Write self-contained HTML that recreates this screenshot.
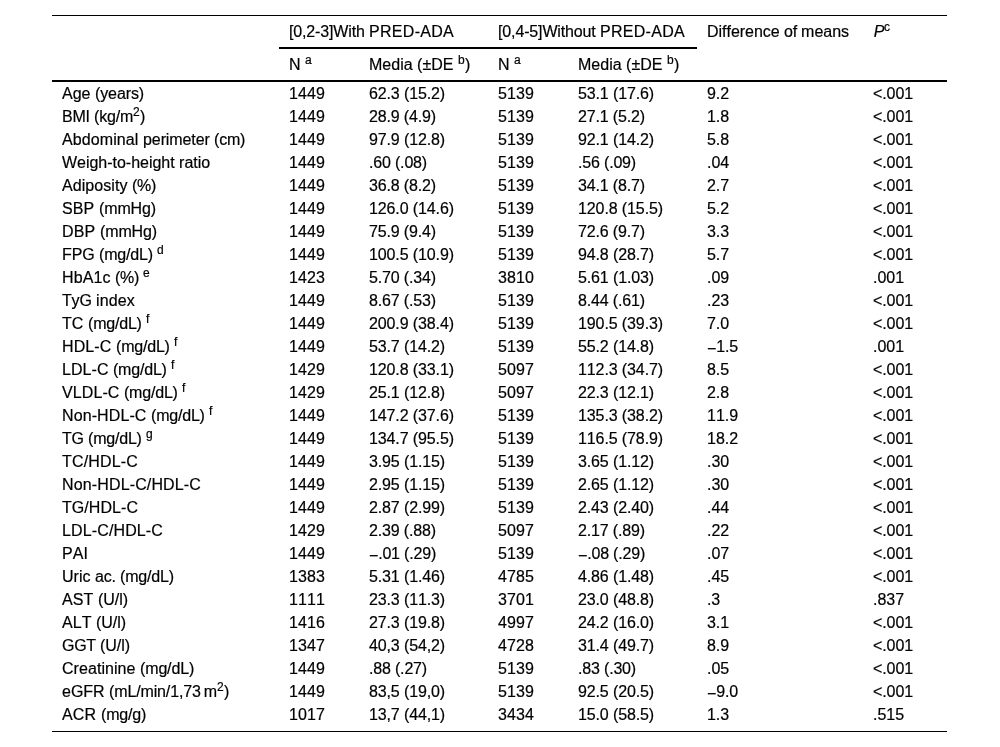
<!DOCTYPE html><html><head><meta charset="utf-8"><title>Table</title><style>
html,body{margin:0;padding:0;background:#fff;}
body{width:1000px;height:747px;overflow:hidden;position:relative;font-family:"Liberation Sans",sans-serif;font-size:16px;color:#000;font-kerning:none;font-variant-ligatures:none;}
.ln{position:absolute;background:#000;}
table{will-change:transform;position:absolute;left:52px;top:16px;width:895px;border-collapse:collapse;table-layout:fixed;}
td,th{-webkit-text-stroke:0.2px #000;padding:0 0 0 10px;text-align:left;font-weight:normal;white-space:nowrap;vertical-align:top;overflow:visible;}
thead tr.h1 th{height:32px;line-height:32px;}
thead tr.h2 th{height:34px;line-height:34px;}
tbody td{height:23px;line-height:23px;}
.mn{position:relative;top:1.5px;}
sup{font-size:12px;line-height:0;vertical-align:baseline;position:relative;top:-5.6px;}
</style></head><body>
<div class="ln" style="left:52px;top:15px;width:895px;height:1px"></div>
<div class="ln" style="left:279px;top:47px;width:418px;height:2px"></div>
<div class="ln" style="left:52px;top:80px;width:895px;height:2px"></div>
<div class="ln" style="left:52px;top:731px;width:895px;height:1px"></div>
<table><colgroup><col style="width:227px"><col style="width:80px"><col style="width:129px"><col style="width:80px"><col style="width:129px"><col style="width:166px"><col style="width:84px"></colgroup>
<thead><tr class="h1"><th></th><th colspan="2"><span style="letter-spacing:-0.15px">[0,2-3]With </span><span style="letter-spacing:0.29px">PRED-ADA</span></th><th colspan="2"><span style="letter-spacing:-0.14px">[0,4-5]Without </span><span style="letter-spacing:0.29px">PRED-ADA</span></th><th><span style="letter-spacing:-0.03px">Difference </span><span style="letter-spacing:-0.26px">of </span>means</th><th><i style="margin-left:0.8px;letter-spacing:-0.4px">P</i><sup>c</sup></th></tr>
<tr class="h2"><th></th><th>N <sup style="letter-spacing:0.33px">a</sup></th><th>Media <span style="letter-spacing:0.04px">(&plusmn;DE </span><sup style="letter-spacing:0.33px">b</sup><span style="letter-spacing:-0.33px">)</span></th><th>N <sup style="letter-spacing:0.33px">a</sup></th><th>Media <span style="letter-spacing:0.04px">(&plusmn;DE </span><sup style="letter-spacing:0.33px">b</sup><span style="letter-spacing:-0.33px">)</span></th><th></th><th></th></tr></thead><tbody>
<tr><td><span style="letter-spacing:0.02px">Age </span><span style="letter-spacing:-0.11px">(years)</span></td><td style="letter-spacing:0.10px">1449</td><td style="letter-spacing:-0.13px">62.3 (15.2)</td><td style="letter-spacing:0.10px">5139</td><td style="letter-spacing:-0.13px">53.1 (17.6)</td><td style="letter-spacing:-0.08px">9.2</td><td style="letter-spacing:-0.10px">&lt;.001</td></tr>
<tr><td><span style="letter-spacing:-0.22px">BMI </span><span style="letter-spacing:-0.20px">(kg/m</span><sup style="letter-spacing:0.33px">2</sup><span style="letter-spacing:-0.33px">)</span></td><td style="letter-spacing:0.10px">1449</td><td style="letter-spacing:-0.15px">28.9 (4.9)</td><td style="letter-spacing:0.10px">5139</td><td style="letter-spacing:-0.15px">27.1 (5.2)</td><td style="letter-spacing:-0.08px">1.8</td><td style="letter-spacing:-0.10px">&lt;.001</td></tr>
<tr><td><span style="letter-spacing:0.10px">Abdominal </span><span style="letter-spacing:-0.10px">perimeter </span><span style="letter-spacing:-0.25px">(cm)</span></td><td style="letter-spacing:0.10px">1449</td><td style="letter-spacing:-0.13px">97.9 (12.8)</td><td style="letter-spacing:0.10px">5139</td><td style="letter-spacing:-0.13px">92.1 (14.2)</td><td style="letter-spacing:-0.08px">5.8</td><td style="letter-spacing:-0.10px">&lt;.001</td></tr>
<tr><td style="letter-spacing:-0.02px">Weigh-to-height ratio</td><td style="letter-spacing:0.10px">1449</td><td style="letter-spacing:-0.18px">.60 (.08)</td><td style="letter-spacing:0.10px">5139</td><td style="letter-spacing:-0.18px">.56 (.09)</td><td style="letter-spacing:-0.08px">.04</td><td style="letter-spacing:-0.10px">&lt;.001</td></tr>
<tr><td><span style="letter-spacing:0.06px">Adiposity </span><span style="letter-spacing:-0.29px">(%)</span></td><td style="letter-spacing:0.10px">1449</td><td style="letter-spacing:-0.15px">36.8 (8.2)</td><td style="letter-spacing:0.10px">5139</td><td style="letter-spacing:-0.15px">34.1 (8.7)</td><td style="letter-spacing:-0.08px">2.7</td><td style="letter-spacing:-0.10px">&lt;.001</td></tr>
<tr><td><span style="letter-spacing:0.13px">SBP </span><span style="letter-spacing:-0.13px">(mmHg)</span></td><td style="letter-spacing:0.10px">1449</td><td style="letter-spacing:-0.11px">126.0 (14.6)</td><td style="letter-spacing:0.10px">5139</td><td style="letter-spacing:-0.11px">120.8 (15.5)</td><td style="letter-spacing:-0.08px">5.2</td><td style="letter-spacing:-0.10px">&lt;.001</td></tr>
<tr><td><span style="letter-spacing:0.16px">DBP </span><span style="letter-spacing:-0.13px">(mmHg)</span></td><td style="letter-spacing:0.10px">1449</td><td style="letter-spacing:-0.15px">75.9 (9.4)</td><td style="letter-spacing:0.10px">5139</td><td style="letter-spacing:-0.15px">72.6 (9.7)</td><td style="letter-spacing:-0.08px">3.3</td><td style="letter-spacing:-0.10px">&lt;.001</td></tr>
<tr><td><span style="letter-spacing:-0.08px">FPG </span><span style="letter-spacing:-0.20px">(mg/dL) </span><sup style="letter-spacing:0.33px">d</sup></td><td style="letter-spacing:0.10px">1449</td><td style="letter-spacing:-0.11px">100.5 (10.9)</td><td style="letter-spacing:0.10px">5139</td><td style="letter-spacing:-0.13px">94.8 (28.7)</td><td style="letter-spacing:-0.08px">5.7</td><td style="letter-spacing:-0.10px">&lt;.001</td></tr>
<tr><td><span style="letter-spacing:0.09px">HbA1c </span><span style="letter-spacing:-0.33px">(%) </span><sup style="letter-spacing:0.33px">e</sup></td><td style="letter-spacing:0.10px">1423</td><td style="letter-spacing:-0.15px">5.70 (.34)</td><td style="letter-spacing:0.10px">3810</td><td style="letter-spacing:-0.13px">5.61 (1.03)</td><td style="letter-spacing:-0.08px">.09</td><td style="letter-spacing:-0.04px">.001</td></tr>
<tr><td><span style="letter-spacing:-0.17px">TyG </span><span style="letter-spacing:0.15px">index</span></td><td style="letter-spacing:0.10px">1449</td><td style="letter-spacing:-0.15px">8.67 (.53)</td><td style="letter-spacing:0.10px">5139</td><td style="letter-spacing:-0.15px">8.44 (.61)</td><td style="letter-spacing:-0.08px">.23</td><td style="letter-spacing:-0.10px">&lt;.001</td></tr>
<tr><td><span style="letter-spacing:0.08px">TC </span><span style="letter-spacing:-0.20px">(mg/dL) </span><sup style="letter-spacing:-0.33px">f</sup></td><td style="letter-spacing:0.10px">1449</td><td style="letter-spacing:-0.11px">200.9 (38.4)</td><td style="letter-spacing:0.10px">5139</td><td style="letter-spacing:-0.11px">190.5 (39.3)</td><td style="letter-spacing:-0.08px">7.0</td><td style="letter-spacing:-0.10px">&lt;.001</td></tr>
<tr><td><span style="letter-spacing:0.11px">HDL-C </span><span style="letter-spacing:-0.20px">(mg/dL) </span><sup style="letter-spacing:-0.33px">f</sup></td><td style="letter-spacing:0.10px">1449</td><td style="letter-spacing:-0.13px">53.7 (14.2)</td><td style="letter-spacing:0.10px">5139</td><td style="letter-spacing:-0.13px">55.2 (14.8)</td><td style="letter-spacing:-0.15px"><span class="mn">&minus;</span>1.5</td><td style="letter-spacing:-0.04px">.001</td></tr>
<tr><td><span style="letter-spacing:0.05px">LDL-C </span><span style="letter-spacing:-0.20px">(mg/dL) </span><sup style="letter-spacing:-0.33px">f</sup></td><td style="letter-spacing:0.10px">1429</td><td style="letter-spacing:-0.11px">120.8 (33.1)</td><td style="letter-spacing:0.10px">5097</td><td style="letter-spacing:-0.11px">112.3 (34.7)</td><td style="letter-spacing:-0.08px">8.5</td><td style="letter-spacing:-0.10px">&lt;.001</td></tr>
<tr><td><span style="letter-spacing:0.09px">VLDL-C </span><span style="letter-spacing:-0.20px">(mg/dL) </span><sup style="letter-spacing:-0.33px">f</sup></td><td style="letter-spacing:0.10px">1429</td><td style="letter-spacing:-0.13px">25.1 (12.8)</td><td style="letter-spacing:0.10px">5097</td><td style="letter-spacing:-0.13px">22.3 (12.1)</td><td style="letter-spacing:-0.08px">2.8</td><td style="letter-spacing:-0.10px">&lt;.001</td></tr>
<tr><td><span style="letter-spacing:0.10px">Non-HDL-C </span><span style="letter-spacing:-0.20px">(mg/dL) </span><sup style="letter-spacing:-0.33px">f</sup></td><td style="letter-spacing:0.10px">1449</td><td style="letter-spacing:-0.11px">147.2 (37.6)</td><td style="letter-spacing:0.10px">5139</td><td style="letter-spacing:-0.11px">135.3 (38.2)</td><td style="letter-spacing:-0.04px">11.9</td><td style="letter-spacing:-0.10px">&lt;.001</td></tr>
<tr><td><span style="letter-spacing:-0.22px">TG </span><span style="letter-spacing:-0.20px">(mg/dL) </span><sup style="letter-spacing:0.33px">g</sup></td><td style="letter-spacing:0.10px">1449</td><td style="letter-spacing:-0.11px">134.7 (95.5)</td><td style="letter-spacing:0.10px">5139</td><td style="letter-spacing:-0.11px">116.5 (78.9)</td><td style="letter-spacing:-0.04px">18.2</td><td style="letter-spacing:-0.10px">&lt;.001</td></tr>
<tr><td style="letter-spacing:0.17px">TC/HDL-C</td><td style="letter-spacing:0.10px">1449</td><td style="letter-spacing:-0.13px">3.95 (1.15)</td><td style="letter-spacing:0.10px">5139</td><td style="letter-spacing:-0.13px">3.65 (1.12)</td><td style="letter-spacing:-0.08px">.30</td><td style="letter-spacing:-0.10px">&lt;.001</td></tr>
<tr><td style="letter-spacing:0.14px">Non-HDL-C/HDL-C</td><td style="letter-spacing:0.10px">1449</td><td style="letter-spacing:-0.13px">2.95 (1.15)</td><td style="letter-spacing:0.10px">5139</td><td style="letter-spacing:-0.13px">2.65 (1.12)</td><td style="letter-spacing:-0.08px">.30</td><td style="letter-spacing:-0.10px">&lt;.001</td></tr>
<tr><td style="letter-spacing:0.06px">TG/HDL-C</td><td style="letter-spacing:0.10px">1449</td><td style="letter-spacing:-0.13px">2.87 (2.99)</td><td style="letter-spacing:0.10px">5139</td><td style="letter-spacing:-0.13px">2.43 (2.40)</td><td style="letter-spacing:-0.08px">.44</td><td style="letter-spacing:-0.10px">&lt;.001</td></tr>
<tr><td style="letter-spacing:0.13px">LDL-C/HDL-C</td><td style="letter-spacing:0.10px">1429</td><td style="letter-spacing:-0.15px">2.39 (.88)</td><td style="letter-spacing:0.10px">5097</td><td style="letter-spacing:-0.15px">2.17 (.89)</td><td style="letter-spacing:-0.08px">.22</td><td style="letter-spacing:-0.10px">&lt;.001</td></tr>
<tr><td style="letter-spacing:0.07px">PAI</td><td style="letter-spacing:0.10px">1449</td><td style="letter-spacing:-0.19px"><span class="mn">&minus;</span>.01 (.29)</td><td style="letter-spacing:0.10px">5139</td><td style="letter-spacing:-0.19px"><span class="mn">&minus;</span>.08 (.29)</td><td style="letter-spacing:-0.08px">.07</td><td style="letter-spacing:-0.10px">&lt;.001</td></tr>
<tr><td><span style="letter-spacing:0.02px">Uric </span><span style="letter-spacing:-0.20px">ac. </span><span style="letter-spacing:-0.16px">(mg/dL)</span></td><td style="letter-spacing:0.10px">1383</td><td style="letter-spacing:-0.13px">5.31 (1.46)</td><td style="letter-spacing:0.10px">4785</td><td style="letter-spacing:-0.13px">4.86 (1.48)</td><td style="letter-spacing:-0.08px">.45</td><td style="letter-spacing:-0.10px">&lt;.001</td></tr>
<tr><td><span style="letter-spacing:0.11px">AST </span><span style="letter-spacing:-0.04px">(U/l)</span></td><td style="letter-spacing:0.10px">1111</td><td style="letter-spacing:-0.13px">23.3 (11.3)</td><td style="letter-spacing:0.10px">3701</td><td style="letter-spacing:-0.13px">23.0 (48.8)</td><td style="letter-spacing:-0.17px">.3</td><td style="letter-spacing:-0.04px">.837</td></tr>
<tr><td><span style="letter-spacing:0.05px">ALT </span><span style="letter-spacing:-0.04px">(U/l)</span></td><td style="letter-spacing:0.10px">1416</td><td style="letter-spacing:-0.13px">27.3 (19.8)</td><td style="letter-spacing:0.10px">4997</td><td style="letter-spacing:-0.13px">24.2 (16.0)</td><td style="letter-spacing:-0.08px">3.1</td><td style="letter-spacing:-0.10px">&lt;.001</td></tr>
<tr><td><span style="letter-spacing:-0.28px">GGT </span><span style="letter-spacing:-0.04px">(U/l)</span></td><td style="letter-spacing:0.10px">1347</td><td style="letter-spacing:-0.13px">40,3 (54,2)</td><td style="letter-spacing:0.10px">4728</td><td style="letter-spacing:-0.13px">31.4 (49.7)</td><td style="letter-spacing:-0.08px">8.9</td><td style="letter-spacing:-0.10px">&lt;.001</td></tr>
<tr><td><span style="letter-spacing:0.06px">Creatinine </span><span style="letter-spacing:-0.16px">(mg/dL)</span></td><td style="letter-spacing:0.10px">1449</td><td style="letter-spacing:-0.18px">.88 (.27)</td><td style="letter-spacing:0.10px">5139</td><td style="letter-spacing:-0.18px">.83 (.30)</td><td style="letter-spacing:-0.08px">.05</td><td style="letter-spacing:-0.10px">&lt;.001</td></tr>
<tr><td><span style="letter-spacing:-0.02px">eGFR </span><span style="letter-spacing:-0.14px">(mL/min/1,73&#8201;m</span><sup style="letter-spacing:0.33px">2</sup><span style="letter-spacing:-0.33px">)</span></td><td style="letter-spacing:0.10px">1449</td><td style="letter-spacing:-0.13px">83,5 (19,0)</td><td style="letter-spacing:0.10px">5139</td><td style="letter-spacing:-0.13px">92.5 (20.5)</td><td style="letter-spacing:-0.15px"><span class="mn">&minus;</span>9.0</td><td style="letter-spacing:-0.10px">&lt;.001</td></tr>
<tr><td><span style="letter-spacing:0.19px">ACR </span><span style="letter-spacing:-0.20px">(mg/g)</span></td><td style="letter-spacing:0.10px">1017</td><td style="letter-spacing:-0.13px">13,7 (44,1)</td><td style="letter-spacing:0.10px">3434</td><td style="letter-spacing:-0.13px">15.0 (58.5)</td><td style="letter-spacing:-0.08px">1.3</td><td style="letter-spacing:-0.04px">.515</td></tr>
</tbody></table></body></html>
